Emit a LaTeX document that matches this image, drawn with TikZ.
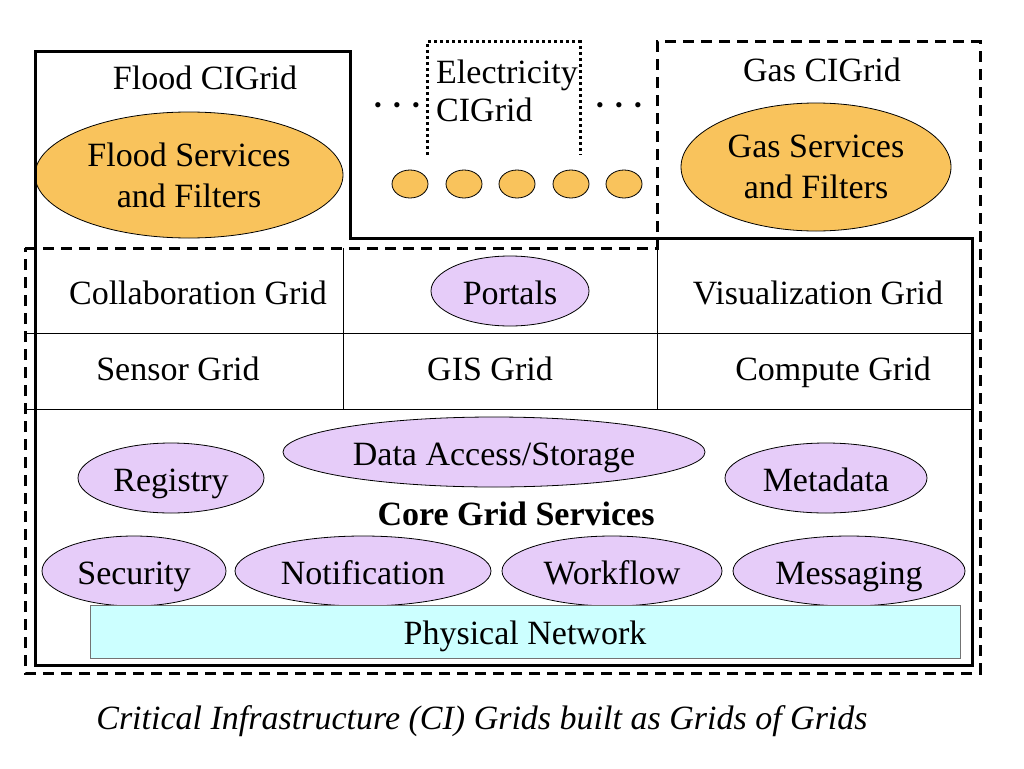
\documentclass[tikz,border=0pt]{standalone}
\usepackage{fontspec}
\setmainfont{Liberation Serif}
\usetikzlibrary{shapes.geometric}
\definecolor{orangefill}{HTML}{F9C35C}
\definecolor{lavender}{HTML}{E6CCF9}
\definecolor{cyanfill}{HTML}{CCFFFF}
\begin{document}
\begin{tikzpicture}[x=1pt,y=-1pt,
  bigfont/.style={font=\fontsize{34}{41}\selectfont},
  txt/.style={bigfont, inner sep=0pt, align=center, text height=22.4pt, text depth=0pt},
  multitxt/.style={bigfont, inner sep=0pt, align=center},
  oval/.style={ellipse, draw=black, line width=0.8pt, inner sep=0pt, bigfont, align=center},
  orangeoval/.style={oval, fill=orangefill},
  lavoval/.style={oval, fill=lavender, text height=26.4pt, text depth=0pt},
  dot/.style={ellipse, draw=black, line width=0.8pt, fill=orangefill, minimum width=36pt, minimum height=28pt, inner sep=0pt},
  ellipsis/.style={font=\fontsize{22}{22}\selectfont, inner sep=0pt},
  heavy/.style={line width=3pt, line join=miter},
  dashline/.style={line width=3pt, dash pattern=on 11pt off 7pt},
  dotline/.style={line width=3pt, dash pattern=on 3pt off 3pt},
  thin/.style={line width=1pt}
]
\useasboundingbox (0,0) rectangle (1024,768);
\fill[white] (0,0) rectangle (1024,768);

% top region
\node[txt] (floodlbl) at (205,78) {Flood CIGrid};
\node[orangeoval, minimum width=308pt, minimum height=126pt] (flood) at (189,175) {Flood Services\\and Filters};
\node[multitxt, align=left, anchor=west, font=\fontsize{34}{38}\selectfont] (elec) at (436,91) {Electricity\\CIGrid};
\node[ellipsis] (dotsL) at (397,108) {•\hspace{11.3pt}•\hspace{11.3pt}•};
\node[ellipsis] (dotsR) at (619,108) {•\hspace{11.3pt}•\hspace{11.3pt}•};
\node[dot] (c1) at (410,184) {};
\node[dot] (c2) at (464,184) {};
\node[dot] (c3) at (517,184) {};
\node[dot] (c4) at (571,184) {};
\node[dot] (c5) at (624,184) {};
\node[txt] (gaslbl) at (822,70) {Gas CIGrid};
\node[orangeoval, minimum width=270pt, minimum height=128pt] (gas) at (816,167) {Gas Services\\and Filters};

% grid rows
\node[txt] (collab) at (198,293) {Collaboration Grid};
\node[lavoval, minimum width=158pt, minimum height=70pt] (portals) at (510,291) {Portals};
\node[txt] (visu) at (818,293) {Visualization Grid};
\node[txt] (sensor) at (178,369) {Sensor Grid};
\node[txt] (gis) at (490,369) {GIS Grid};
\node[txt] (compute) at (833,369) {Compute Grid};

% core services
\node[lavoval, minimum width=422pt, minimum height=70pt] (data) at (494,452) {Data Access/Storage};
\node[lavoval, minimum width=186pt, minimum height=70pt] (registry) at (171,478) {Registry};
\node[lavoval, minimum width=202pt, minimum height=70pt] (metadata) at (826,478) {Metadata};
\node[txt, font=\fontsize{34}{41}\selectfont\bfseries] (core) at (516,514) {Core Grid Services};
\node[lavoval, minimum width=184pt, minimum height=70pt] (security) at (134,571) {Security};
\node[lavoval, minimum width=256pt, minimum height=70pt] (notif) at (363,571) {Notification};
\node[lavoval, minimum width=220pt, minimum height=70pt] (workflow) at (612,571) {Workflow};
\node[lavoval, minimum width=232pt, minimum height=70pt] (messaging) at (849,571) {Messaging};
\node[draw=black!55, line width=1pt, fill=cyanfill, minimum width=870pt, minimum height=53pt, inner sep=0pt, bigfont, text height=26.4pt, text depth=0pt] (phys) at (525,631.5) {Physical Network};

% thin grid lines
\draw[thin] (25,333) -- (972,333);
\draw[thin] (25,409) -- (972,409);
\draw[thin] (343,248) -- (343,409);
\draw[thin] (657,248) -- (657,409);

% outlines
\draw[dotline] (427,155) -- (427,42) -- (580,42) -- (580,155);
\draw[heavy] (35,52) -- (350,52) -- (350,238) -- (972,238) -- (972,665) -- (35,665) -- cycle;
\draw[dashline] (25,248) -- (657,248) -- (657,42) -- (980,42) -- (980,673) -- (25,673) -- cycle;

% caption
\node[txt, font=\fontsize{34}{41}\selectfont\itshape] (caption) at (482,718) {Critical Infrastructure (CI) Grids built as Grids of Grids};
\end{tikzpicture}
\end{document}
